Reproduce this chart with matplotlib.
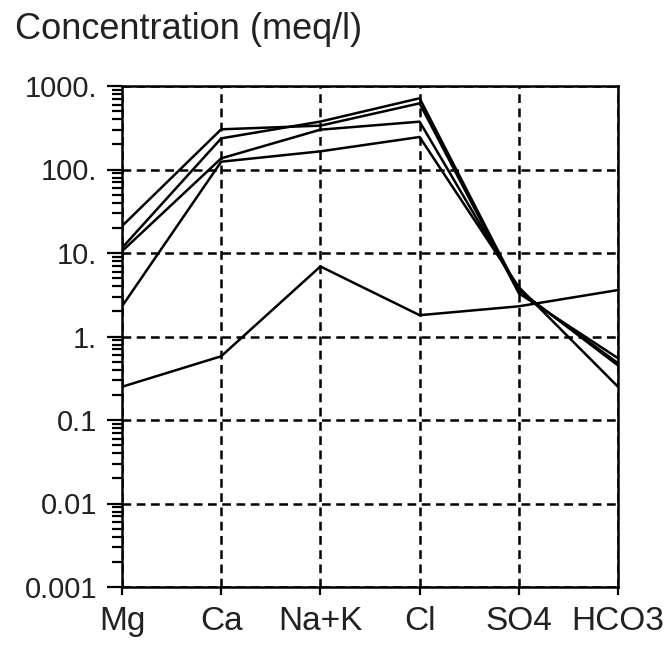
import matplotlib
matplotlib.use("Agg")
import matplotlib.pyplot as plt
from matplotlib.ticker import FixedLocator, FixedFormatter, LogLocator, NullFormatter

plt.rcParams["font.family"] = ["Liberation Sans", "DejaVu Sans"]

ions = ["Mg", "Ca", "Na+K", "Cl", "SO4", "HCO3"]

sample_a = [21, 303, 335, 620, 3.3, 0.55]
sample_b = [11.5, 236, 375, 713, 3.5, 0.48]
sample_c = [10.5, 136, 300, 374, 3.6, 0.45]
sample_d = [2.3, 124, 165, 245, 3.9, 0.25]
sample_e = [0.25, 0.58, 6.9, 1.8, 2.3, 3.6]

y_ticks = [0.001, 0.01, 0.1, 1, 10, 100, 1000]
y_labels = ["0.001", "0.01", "0.1", "1.", "10.", "100.", "1000."]

fig = plt.figure(figsize=(6.71, 6.45), dpi=100)
ax = fig.add_axes([122 / 671, 1 - 587 / 645, 496 / 671, 501 / 645])

x = list(range(len(ions)))
for values in [sample_a, sample_b, sample_c, sample_d, sample_e]:
    ax.plot(x, values, color="black", lw=1.8, zorder=3)

ax.set_yscale("log")
ax.set_ylim(0.001, 1000)
ax.set_xlim(0, len(ions) - 1)

ax.yaxis.set_major_locator(FixedLocator(y_ticks))
ax.yaxis.set_major_formatter(FixedFormatter(y_labels))
ax.yaxis.set_minor_locator(LogLocator(base=10, subs=[2, 3, 4, 5, 6, 7, 8, 9]))
ax.yaxis.set_minor_formatter(NullFormatter())

ax.set_xticks(x)
ax.set_xticklabels(ions)

# dashed grid at every major tick
ax.grid(True, which="major", color="black", lw=1.8, linestyle=(0, (3.5, 2.2)))
ax.set_axisbelow(True)

for side in ["left", "right", "top", "bottom"]:
    ax.spines[side].set_linewidth(1.8)
    ax.spines[side].set_color("black")

ax.tick_params(axis="y", which="major", direction="out", length=11, width=1.6, pad=7,
               labelsize=21, labelcolor="#222222")
ax.tick_params(axis="y", which="minor", direction="out", length=7, width=1.6)
ax.tick_params(axis="x", which="major", direction="out", length=6, width=1.6, pad=8,
               labelsize=24, labelcolor="#222222")

fig.text(15 / 671, 1 - 12 / 645, "Concentration (meq/l)", fontsize=26,
         color="#222222", ha="left", va="top")

fig.savefig("out.png", dpi=100)
plt.close(fig)
